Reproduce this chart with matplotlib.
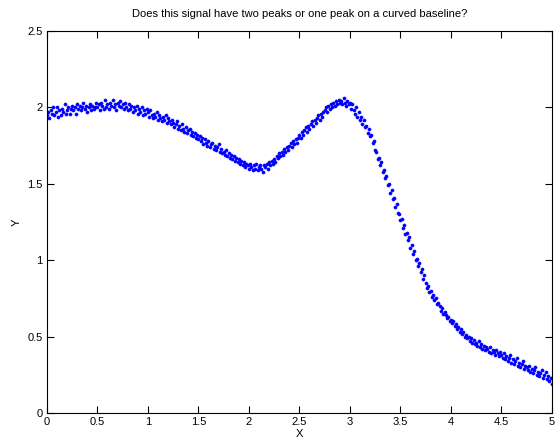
import matplotlib
matplotlib.use("Agg")
import matplotlib.pyplot as plt
import numpy as np
from matplotlib.ticker import FormatStrFormatter

# y values, x runs evenly from 0 to 5
y_vals = [
    1.95, 1.97, 1.93, 1.98, 1.96, 2.00, 1.95, 1.97, 2.00, 1.94, 1.98, 1.95, 1.99, 1.97, 2.02, 1.96, 1.98, 2.00, 1.96, 1.99,
    2.01, 1.98, 2.00, 1.96, 2.02, 1.99, 2.01, 1.98, 2.00, 2.03, 1.99, 2.01, 1.97, 2.00, 2.02, 1.98, 2.01, 1.99, 2.00, 2.03,
    2.00, 2.02, 1.98, 2.03, 2.01, 1.99, 2.05, 2.00, 2.02, 1.99, 2.03, 2.01, 2.05, 2.00, 2.02, 1.98, 2.03, 2.01, 2.04, 2.00,
    2.02, 1.99, 2.03, 2.00, 1.98, 2.02, 1.99, 2.01, 1.97, 2.00, 1.98, 2.01, 1.96, 1.99, 1.97, 2.00, 1.95, 1.98, 1.96, 1.99,
    1.97, 1.94, 1.98, 1.95, 1.93, 1.96, 1.94, 1.97, 1.92, 1.95, 1.93, 1.91, 1.94, 1.92, 1.95, 1.90, 1.93, 1.91, 1.89, 1.92,
    1.90, 1.87, 1.89, 1.91, 1.86, 1.88, 1.85, 1.89, 1.86, 1.84, 1.87, 1.83, 1.85, 1.86, 1.82, 1.84, 1.81, 1.83, 1.80, 1.82,
    1.79, 1.81, 1.78, 1.80, 1.76, 1.79, 1.77, 1.75, 1.78, 1.74, 1.76, 1.77, 1.73, 1.75, 1.72, 1.74, 1.76, 1.71, 1.73, 1.70,
    1.71, 1.69, 1.72, 1.68, 1.70, 1.67, 1.69, 1.66, 1.68, 1.65, 1.67, 1.64, 1.66, 1.63, 1.65, 1.62, 1.64, 1.61, 1.63, 1.62,
    1.60, 1.63, 1.61, 1.59, 1.62, 1.60, 1.63, 1.59, 1.61, 1.62, 1.60, 1.58, 1.62, 1.61, 1.63, 1.60, 1.64, 1.62, 1.65, 1.63,
    1.66, 1.64, 1.68, 1.67, 1.70, 1.68, 1.71, 1.69, 1.73, 1.71, 1.74, 1.72, 1.75, 1.77, 1.74, 1.78, 1.76, 1.79, 1.77, 1.80,
    1.82, 1.80, 1.84, 1.82, 1.85, 1.87, 1.84, 1.88, 1.86, 1.89, 1.91, 1.88, 1.92, 1.90, 1.93, 1.95, 1.92, 1.96, 1.94, 1.97,
    1.98, 2.00, 1.97, 2.01, 1.99, 2.02, 2.00, 2.03, 2.01, 2.04, 2.02, 2.05, 2.03, 2.04, 2.02, 2.06, 2.03, 2.01, 2.04, 2.02,
    2.03, 1.99, 2.02, 1.98, 1.96, 2.00, 1.94, 1.97, 1.92, 1.94, 1.89, 1.92, 1.87, 1.88, 1.83, 1.86, 1.81, 1.82, 1.77, 1.78,
    1.72, 1.71, 1.66, 1.67, 1.62, 1.64, 1.58, 1.59, 1.54, 1.55, 1.49, 1.50, 1.44, 1.46, 1.40, 1.41, 1.35, 1.37, 1.31, 1.30,
    1.26, 1.27, 1.21, 1.23, 1.17, 1.18, 1.13, 1.15, 1.08, 1.10, 1.04, 1.06, 1.00, 1.01, 0.96, 0.98, 0.92, 0.94, 0.88, 0.90,
    0.85, 0.82, 0.83, 0.79, 0.80, 0.76, 0.77, 0.74, 0.75, 0.71, 0.72, 0.70, 0.67, 0.69, 0.65, 0.66, 0.64, 0.62, 0.63, 0.60,
    0.61, 0.59, 0.60, 0.57, 0.58, 0.55, 0.56, 0.53, 0.55, 0.52, 0.53, 0.50, 0.51, 0.49, 0.50, 0.47, 0.49, 0.46, 0.48, 0.45,
    0.46, 0.44, 0.47, 0.43, 0.45, 0.42, 0.44, 0.41, 0.43, 0.42, 0.40, 0.43, 0.39, 0.41, 0.40, 0.38, 0.41, 0.39, 0.37, 0.40,
    0.38, 0.36, 0.39, 0.35, 0.37, 0.34, 0.36, 0.38, 0.33, 0.35, 0.32, 0.34, 0.36, 0.31, 0.33, 0.30, 0.32, 0.34, 0.29, 0.31,
    0.30, 0.28, 0.31, 0.27, 0.29, 0.26, 0.28, 0.30, 0.25, 0.27, 0.24, 0.26, 0.28, 0.23, 0.25, 0.27, 0.22, 0.24, 0.21, 0.23,
    0.19,
]
x_vals = np.linspace(0, 5, len(y_vals))

x_ticks = [0, 0.5, 1, 1.5, 2, 2.5, 3, 3.5, 4, 4.5, 5]
y_ticks = [0, 0.5, 1, 1.5, 2, 2.5]
title = "Does this signal have two peaks or one peak on a curved baseline?"

plt.rcParams['font.family'] = ['Liberation Sans', 'DejaVu Sans']
plt.rcParams['font.size'] = 8

fig = plt.figure(figsize=(5.58, 4.37), dpi=100)
ax = fig.add_axes([0.084, 0.055, 0.905, 0.874])
ax.plot(x_vals, y_vals, '.', ms=4.5, mew=0.4, color=(0, 0, 1))

ax.set_xlim(0, 5)
ax.set_ylim(0, 2.5)
ax.set_xticks(x_ticks)
ax.set_yticks(y_ticks)
ax.xaxis.set_major_formatter(FormatStrFormatter('%g'))
ax.yaxis.set_major_formatter(FormatStrFormatter('%g'))
ax.tick_params(direction='in', length=5, width=0.8, top=True, right=True,
               labelsize=8, pad=3)
for s in ax.spines.values():
    s.set_linewidth(0.8)

ax.set_title(title, fontsize=8, pad=10)
ax.set_xlabel("X", fontsize=8, labelpad=1)
ax.set_ylabel("Y", fontsize=8, labelpad=4)

fig.savefig("out.png")
